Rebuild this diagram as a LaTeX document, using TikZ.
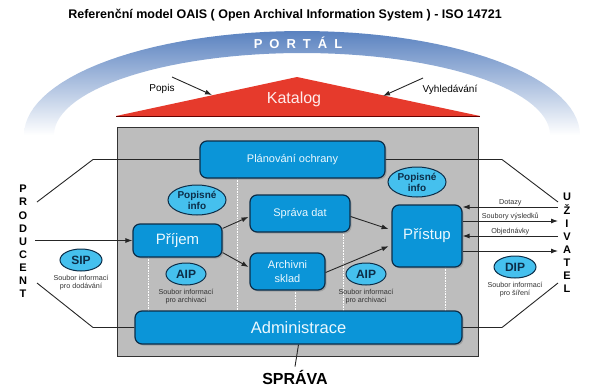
\documentclass[tikz,border=0pt]{standalone}
\usepackage{fontspec}
\setmainfont{Liberation Sans}
\usepackage{xcolor}
\usepackage{tikz}
\usetikzlibrary{positioning,arrows.meta,calc,shadows,shapes.geometric}
\definecolor{modra}{HTML}{0B95D8}
\definecolor{okraj}{HTML}{0C2D48}
\definecolor{svetla}{HTML}{45C0EE}
\definecolor{cervena}{HTML}{E63A2C}
\definecolor{portal}{HTML}{5A82C0}
\definecolor{seda}{HTML}{BDBDBD}

\tikzset{
  blok/.style={draw=okraj,line width=1.2pt,fill=modra,rounded corners=7pt,text=white!92!cyan,
    align=center,inner sep=0pt,
    drop shadow={opacity=0.45,shadow xshift=1.5pt,shadow yshift=-1.5pt}},
  elip/.style={ellipse,draw=okraj,line width=1pt,fill=svetla,inner sep=0pt,align=center,
    font=\bfseries,text=okraj},
  popisek/.style={font=\fontsize{7.2}{8.2}\selectfont,text=black!80,align=center,inner sep=0pt},
  pismena/.style={font=\bfseries\fontsize{11}{13.1}\selectfont,align=center,inner sep=0pt},
  tok/.style={-{Latex[length=7pt,width=5pt]},line width=0.9pt,black!85},
  tecky/.style={white,densely dotted,line width=0.6pt},
  vazba/.style={line width=0.9pt,black!85},
}

\begin{document}
\begin{tikzpicture}[x=1pt,y=-1pt]
  \useasboundingbox (0,0) rectangle (604,386);
  % nadpis
  \node[font=\bfseries\fontsize{12.5}{14}\selectfont] (nadpis) at (285,15)
    {Referenční model OAIS ( Open Archival Information System ) - ISO 14721};
  % portal
  \shade[top color=portal,middle color=portal!75,bottom color=white]
    plot[domain=180:0,samples=60] ({302+278*cos(\x)},{135-104*sin(\x)})
    -- plot[domain=0:180,samples=60] ({302+248*cos(\x)},{135-82*sin(\x)}) -- cycle;
  \node[text=white,font=\bfseries\fontsize{13}{15}\selectfont] (portal) at (298,43)
    {P\hspace{7pt}O\hspace{7pt}R\hspace{7pt}T\hspace{7pt}Á\hspace{7pt}L};
  % katalog
  \fill[cervena] (116,116) -- (297,77) -- (480,116) -- cycle;
  \draw[line width=1pt,red!40!black] (116,116) -- (480,116);
  \node[text=red!8,font=\fontsize{16}{18}\selectfont] (katalog) at (294,99) {Katalog};
  \node[font=\fontsize{10}{12}\selectfont] (popis) at (162,89) {Popis};
  \node[font=\fontsize{10}{12}\selectfont] (hledani) at (450,90) {Vyhledávání};
  \coordinate (kA) at (172,77);
  \coordinate (kB) at (212,95);
  \coordinate (kC) at (423,78);
  \coordinate (kD) at (383,96);
  \draw[tok] (kA) -- (kB);
  \draw[tok] (kC) -- (kD);
  % archiv
  \draw[line width=1pt,black!80,fill=seda] (117,127) rectangle (478,356);
  \foreach \x/\y in {148/257,237/178,295/290,343/232,445/267}
    \draw[tecky] (\x,\y) -- (\x,311);

  % bloky
  \node[blok,minimum width=185pt,minimum height=37pt,font=\fontsize{11}{13}\selectfont]
    (plan) at (292.5,159.5) {Plánování ochrany};
  \node[blok,minimum width=89pt,minimum height=33pt,font=\fontsize{15}{17}\selectfont]
    (prijem) at (177.5,240.5) {Příjem};
  \node[blok,minimum width=100pt,minimum height=37pt,font=\fontsize{11}{13}\selectfont]
    (sprava) at (300,213.5) {Správa dat};
  \node[blok,minimum width=75pt,minimum height=37pt,font=\fontsize{11}{14}\selectfont]
    (sklad) at (287.5,271.5) {Archivni\\sklad};
  \node[blok,minimum width=70pt,minimum height=62pt,font=\fontsize{15}{17}\selectfont]
    (pristup) at (427,236) {Přístup};
  \node[blok,minimum width=327pt,minimum height=33pt,font=\fontsize{16.5}{18}\selectfont]
    (admin) at (298.5,327.5) {Administrace};

  % elipsy
  \node[elip,minimum width=58pt,minimum height=30pt,font=\bfseries\fontsize{10}{11}\selectfont]
    (info1) at (197,200) {Popisné\\info};
  \node[elip,minimum width=58pt,minimum height=30pt,font=\bfseries\fontsize{10}{11}\selectfont]
    (info2) at (417,182) {Popisné\\info};
  \node[elip,minimum width=42pt,minimum height=22pt,font=\bfseries\fontsize{12}{14}\selectfont]
    (sip) at (81,260) {SIP};
  \node[elip,minimum width=40pt,minimum height=22pt,font=\bfseries\fontsize{12}{14}\selectfont]
    (aip1) at (186,274) {AIP};
  \node[elip,minimum width=40pt,minimum height=22pt,font=\bfseries\fontsize{12}{14}\selectfont]
    (aip2) at (366,274) {AIP};
  \node[elip,minimum width=42pt,minimum height=22pt,font=\bfseries\fontsize{12}{14}\selectfont]
    (dip) at (515,267) {DIP};
  \node[popisek,below=3pt of sip] (sipt) {Soubor informací\\pro dodávání};
  \node[popisek,below=3pt of aip1] (aip1t) {Soubor informací\\pro archivaci};
  \node[popisek,below=3pt of aip2] (aip2t) {Soubor informací\\pro archivaci};
  \node[popisek,below=3pt of dip] (dipt) {Soubor informací\\pro šíření};

  % vnitrni toky
  \draw[tok,shorten >=1pt] (prijem.15) -- ([yshift=-3pt]sprava.west);
  \draw[tok,shorten >=1pt] (prijem.-15) -- ([yshift=4pt]sklad.west);
  \draw[tok,shorten >=3pt] ([yshift=-3pt]sprava.east) -- ([yshift=6pt]pristup.west);
  \draw[tok,shorten >=3pt] ([yshift=-1pt]sklad.east) -- ([yshift=-9pt]pristup.west);

  % producent, uzivatel, sprava
  \node[pismena] (prod) at (23,241.5) {P\\R\\O\\D\\U\\C\\E\\N\\T};
  \node[pismena] (uziv) at (567,243) {U\\Ž\\I\\V\\A\\T\\E\\L};
  \node[font=\bfseries\fontsize{16}{18}\selectfont,anchor=base,inner sep=0pt] (spr) at (295,384) {SPRÁVA};
  \coordinate (pA) at (37,202);
  \coordinate (pB) at (35,240.5);
  \coordinate (pC) at (37,283);
  \coordinate (uA) at (558,202);
  \coordinate (uB) at (558,283);
  \draw[vazba] (pA) -- (93,159.5) -- (plan.west);
  \draw[tok] (pB) -- (prijem.west);
  \draw[vazba] (pC) -- (93,327.5) -- (admin.west);
  \draw[vazba] (plan.east) -- (502,159.5) -- (uA);
  \draw[vazba] (admin.east) -- (502,327.5) -- (uB);
  \draw[vazba] (admin.south) -- ([yshift=3pt]spr.north);
  \coordinate (u1) at (558,207);
  \coordinate (u2) at (558,221);
  \coordinate (u3) at (558,236);
  \coordinate (u4) at (558,251);
  \draw[tok] (u1) -- (u1 -| pristup.east)
    node[midway,above=1pt,popisek] {Dotazy};
  \draw[tok] (u2 -| pristup.east) -- (u2)
    node[midway,above=1pt,popisek] {Soubory výsledků};
  \draw[tok] (u3) -- (u3 -| pristup.east)
    node[midway,above=1pt,popisek] {Objednávky};
  \draw[tok] (u4 -| pristup.east) -- (u4);
\end{tikzpicture}
\end{document}
